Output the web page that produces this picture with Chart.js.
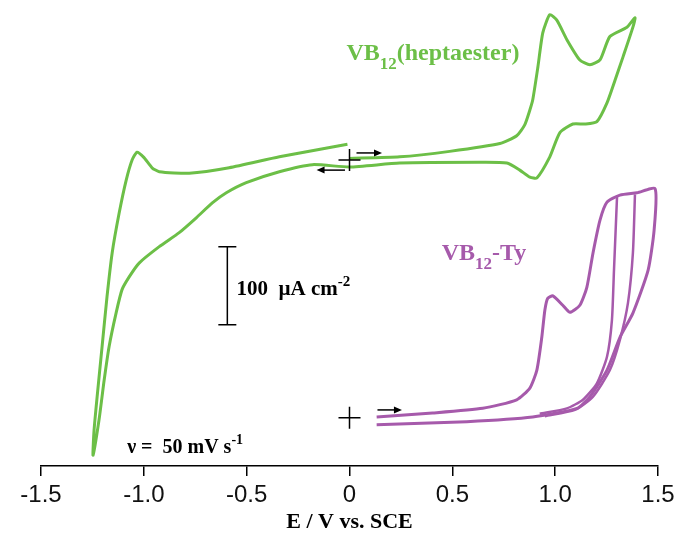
<!DOCTYPE html>
<html>
<head>
<meta charset="utf-8">
<script src="https://cdn.jsdelivr.net/npm/chart.js@4.4.1/dist/chart.umd.min.js"></script>
<style>
  html, body { margin: 0; padding: 0; background: #fff; }
  #wrap { width: 683px; height: 534px; }
</style>
</head>
<body>
<div id="wrap"><canvas id="cv" width="683" height="534"></canvas></div>
<script>
// x axis ticks (V vs. SCE)
const tickValues = [-1.5, -1.0, -0.5, 0, 0.5, 1.0, 1.5];
const tickLabels = ['-1.5', '-1.0', '-0.5', '0', '0.5', '1.0', '1.5'];

// VB12(heptaester): 0 -> +1.4 -> -1.25 -> 0 V (current in µA cm-2, offset for display)
const heptaE = [0, 0.244, 0.487, 0.731, 0.813, 0.852, 0.877, 0.891, 0.916, 0.940, 0.974, 1.008, 1.057, 1.120, 1.169, 1.218, 1.266, 1.349, 1.388,
  1.378, 1.330, 1.291, 1.252, 1.203, 1.145, 1.086, 1.023, 0.974, 0.911, 0.877, 0.828, 0.765, 0.633, 0.244, 0,
  -0.180, -0.341, -0.502, -0.599, -0.667, -0.745, -0.828, -0.925, -1.023, -1.072, -1.106, -1.135, -1.169, -1.193, -1.218, -1.247,
  -1.242, -1.227, -1.203, -1.179, -1.154, -1.120, -1.086, -1.057, -1.033, -0.999, -0.960, -0.925, -0.779, -0.585, -0.341, -0.010];
const heptaI = [390, 392, 399, 409, 419, 433, 452, 465, 507, 551, 574, 567, 542, 516, 510, 516, 546, 558, 570,
  558, 520, 490, 461, 437, 434, 434, 423, 392, 365, 366, 375, 384, 385, 384, 379,
  382, 373, 359, 346, 333, 314, 295, 277, 256, 238, 222, 192, 149, 106, 55, 10,
  42, 85, 149, 213, 269, 320, 362, 388, 398, 391, 378, 373, 371, 378, 392, 408];

// VB12-Ty: outer cycle
const tyE = [0.132, 0.404, 0.648, 0.813, 0.877, 0.911, 0.935, 0.950, 0.964, 0.989, 1.037, 1.072, 1.120, 1.154, 1.184, 1.218, 1.252, 1.315, 1.398, 1.486,
  1.481, 1.452, 1.378, 1.315, 1.252, 1.169, 1.106, 0.891, 0.570, 0.132];
const tyI = [59, 64, 70, 81, 96, 119, 161, 196, 211, 214, 202, 193, 202, 225, 269, 311, 334, 343, 346, 351,
  298, 247, 192, 161, 119, 85, 70, 59, 53, 49];
// VB12-Ty: repeated scans with earlier switching potentials
const tyInner1E = [1.301, 1.286, 1.276, 1.252, 1.203, 1.135, 1.057, 0.925];
const tyInner1I = [342, 247, 183, 136, 102, 81, 70, 63];
const tyInner2E = [1.388, 1.378, 1.354, 1.315, 1.266, 1.184, 1.096, 0.950];
const tyInner2I = [344, 269, 205, 158, 119, 85, 68, 60];

const GREEN = '#6cbf47';
const PURPLE = '#a65aab';

const pts = (xs, ys) => xs.map((v, i) => ({ x: v, y: ys[i] }));

function line(label, data, color, width) {
  return {
    label, data,
    showLine: true,
    borderColor: color,
    borderWidth: width,
    pointRadius: 0,
    tension: 0.2,
    fill: false
  };
}

// start markers, sweep arrows, scale bar and labels
const overlay = {
  id: 'overlay',
  afterDatasetsDraw(chart) {
    const { ctx, scales: { x, y } } = chart;
    const px = v => x.getPixelForValue(v);
    const py = v => y.getPixelForValue(v);
    ctx.save();
    ctx.strokeStyle = '#000';
    ctx.fillStyle = '#000';
    ctx.lineWidth = 1.5;

    // start crosses
    [[0, 388], [0, 58]].forEach(([e, i]) => {
      const cx = px(e), cy = py(i);
      ctx.beginPath();
      ctx.moveTo(cx - 11, cy); ctx.lineTo(cx + 11, cy);
      ctx.moveTo(cx, cy - 11); ctx.lineTo(cx, cy + 11);
      ctx.stroke();
    });

    // arrows
    const arrow = (e0, e1, i) => {
      const x0 = px(e0), x1 = px(e1), yy = py(i);
      const dir = Math.sign(x1 - x0);
      ctx.beginPath();
      ctx.moveTo(x0, yy); ctx.lineTo(x1 - dir * 6, yy);
      ctx.stroke();
      ctx.beginPath();
      ctx.moveTo(x1, yy);
      ctx.lineTo(x1 - dir * 8, yy - 3.5);
      ctx.lineTo(x1 - dir * 8, yy + 3.5);
      ctx.closePath();
      ctx.fill();
    };
    arrow(0.034, 0.158, 397);
    arrow(-0.022, -0.160, 375);
    arrow(0.136, 0.255, 68);

    // scale bar 100 µA cm-2
    const sx = px(-0.594), sTop = py(277), sBot = py(177);
    ctx.beginPath();
    ctx.moveTo(sx, sTop); ctx.lineTo(sx, sBot);
    ctx.moveTo(sx - 9, sTop); ctx.lineTo(sx + 9, sTop);
    ctx.moveTo(sx - 9, sBot); ctx.lineTo(sx + 9, sBot);
    ctx.stroke();

    const serif = '"Liberation Serif", "DejaVu Serif", serif';
    const runs = (e, i, parts, size, color) => {
      let cx = px(e);
      const base = py(i);
      ctx.fillStyle = color;
      ctx.textBaseline = 'alphabetic';
      ctx.textAlign = 'left';
      parts.forEach(p => {
        const s = p.sub || p.sup ? Math.round(size * 0.7) : size;
        ctx.font = 'bold ' + s + 'px ' + serif;
        const dy = p.sub ? size * 0.38 : (p.sup ? -size * 0.42 : 0);
        ctx.fillText(p.t, cx, base + dy);
        cx += ctx.measureText(p.t).width;
      });
    };
    runs(-0.550, 215, [{ t: '100  µA cm' }, { t: '-2', sup: true }], 21, '#000');
    runs(-1.081, 13, [{ t: 'ν =  50 mV s' }, { t: '-1', sup: true }], 20, '#000');
    runs(-0.015, 516, [{ t: 'VB' }, { t: '12', sub: true }, { t: '(heptaester)' }], 24, GREEN);
    runs(0.448, 260, [{ t: 'VB' }, { t: '12', sub: true }, { t: '-Ty' }], 24, PURPLE);
    ctx.restore();
  }
};

new Chart(document.getElementById('cv'), {
  type: 'scatter',
  data: {
    datasets: [
      line('VB12(heptaester)', pts(heptaE, heptaI), GREEN, 3),
      line('VB12-Ty', pts(tyE, tyI), PURPLE, 3),
      line('VB12-Ty 2', pts(tyInner1E, tyInner1I), PURPLE, 2.5),
      line('VB12-Ty 3', pts(tyInner2E, tyInner2I), PURPLE, 2.5)
    ]
  },
  options: {
    responsive: false,
    animation: false,
    devicePixelRatio: 1,
    layout: { padding: { left: 41, right: 25, top: 10, bottom: 0 } },
    plugins: {
      legend: { display: false },
      tooltip: { enabled: false }
    },
    scales: {
      x: {
        type: 'linear',
        min: -1.5,
        max: 1.5,
        afterFit: s => { s.height = 68; },
        afterBuildTicks: s => { s.ticks = tickValues.map(v => ({ value: v })); },
        ticks: {
          color: '#111',
          padding: 5,
          maxRotation: 0,
          font: { family: '"Liberation Sans", Arial, sans-serif', size: 24 },
          callback: (v) => tickLabels[tickValues.indexOf(v)] ?? ''
        },
        grid: {
          display: true,
          drawOnChartArea: false,
          drawTicks: true,
          tickLength: 10,
          color: '#000',
          lineWidth: 1.5
        },
        border: { display: true, color: '#000', width: 1.5 },
        title: {
          display: true,
          text: 'E / V vs. SCE',
          color: '#000',
          padding: { top: 0, bottom: 0 },
          font: { family: '"Liberation Serif", serif', size: 22, weight: 'bold', lineHeight: 1.1 }
        }
      },
      y: {
        display: false,
        min: -3.8,
        max: 580
      }
    }
  },
  plugins: [overlay]
});
</script>
</body>
</html>
